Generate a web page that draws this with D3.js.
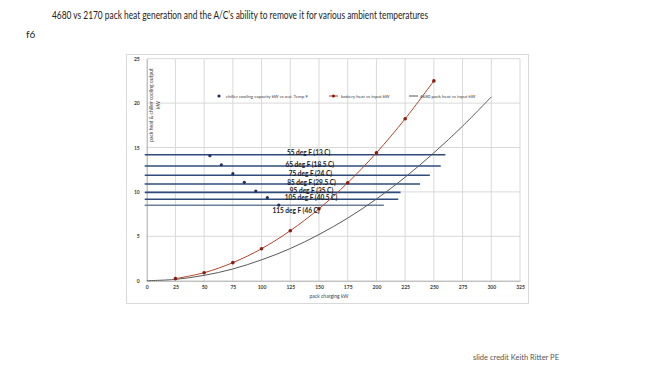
<!DOCTYPE html>
<html>
<head>
<meta charset="utf-8">
<script src="https://cdn.jsdelivr.net/npm/d3@7"></script>
<style>
  body { margin: 0; background: #fff; }
  svg { display: block; }
  text { font-family: Lato, "Liberation Sans", Arial, sans-serif; }
  .tick text { font-size: 5px; fill: #404040; }
</style>
</head>
<body>
<div id="chart"></div>
<script>
// chiller cooling capacity points (kW) vs outside temp
const chillerX = [55, 65, 75, 85, 95, 105, 115];
const chillerY = [14.07, 13.06, 12.05, 11.08, 10.1, 9.35, 8.52];

// capacity lines at each ambient temperature
const tempLabels = ["55 deg F (13 C)", "65 deg F (18.5 C)", "75 deg F (24 C)", "85 deg F (29.5 C)",
                    "95 deg F (35 C)", "105 deg F (40.5 C)", "115 deg F (46 C)"];
const tempLevel = [14.19, 12.92, 11.87, 10.89, 9.95, 9.17, 8.49];
const tempLineEnd = [260, 256, 246.5, 238, 221, 219, 206.5];

// battery heat vs input kW (2170)
const batteryX = [25, 50, 75, 100, 125, 150, 175, 200, 225, 250];
const batteryY = [0.23, 0.9, 2.03, 3.6, 5.63, 8.1, 11.03, 14.4, 18.23, 22.5];

// 4680 pack heat vs input kW
const pack4680X = [0, 25, 50, 75, 100, 125, 150, 175, 200, 225, 250, 275, 300];
const pack4680Y = [0, 0.15, 0.6, 1.32, 2.35, 3.62, 5.2, 7.05, 9.2, 11.65, 14.4, 17.4, 20.7];

const xTicks = d3.range(0, 326, 25);
const yTicks = [0, 5, 10, 15, 20, 25];

const svg = d3.select("#chart").append("svg")
  .attr("width", 660).attr("height", 371);

// slide texts
svg.append("text").attr("x", 52).attr("y", 19)
  .style("font-size", "11.5px").attr("fill", "#222")
  .attr("textLength", 376).attr("lengthAdjust", "spacingAndGlyphs")
  .text("4680 vs 2170 pack heat generation and the A/C\u2019s ability to remove it for various ambient temperatures");
svg.append("text").attr("x", 26).attr("y", 38)
  .style("font-size", "10px").attr("fill", "#222").text("f6");
svg.append("text").attr("x", 473).attr("y", 360)
  .style("font-size", "7px").attr("fill", "#555")
  .attr("textLength", 86).attr("lengthAdjust", "spacingAndGlyphs")
  .text("slide credit Keith Ritter PE");

// chart frame
svg.append("rect").attr("x", 126.5).attr("y", 54.5).attr("width", 402).attr("height", 249)
  .attr("fill", "#fff").attr("stroke", "#d9d9d9");

const x = d3.scaleLinear().domain([0, 325]).range([146.7, 520]);
const y = d3.scaleLinear().domain([0, 25]).range([280.7, 58.7]);

// grid
const grid = svg.append("g");
grid.selectAll(".gx").data(xTicks.slice(1)).join("line")
  .attr("x1", d => x(d)).attr("x2", d => x(d)).attr("y1", y(0)).attr("y2", y(25))
  .attr("stroke", "#d9d9d9").attr("stroke-width", 1);
grid.selectAll(".gy").data(yTicks.slice(1)).join("line")
  .attr("x1", x(0)).attr("x2", x(325)).attr("y1", d => y(d)).attr("y2", d => y(d))
  .attr("stroke", "#d9d9d9").attr("stroke-width", 1);

// axes
const xAxis = svg.append("g").attr("transform", `translate(0,${y(0)})`)
  .call(d3.axisBottom(x).tickValues(xTicks).tickSize(0).tickPadding(5));
const yAxis = svg.append("g").attr("transform", `translate(${x(0)},0)`)
  .call(d3.axisLeft(y).tickValues(yTicks).tickSize(0).tickPadding(7));
[xAxis, yAxis].forEach(a => {
  a.select(".domain").attr("stroke", "#a6a6a6");
  a.selectAll("text").style("font-weight", "bold");
});

svg.append("text").attr("x", 329).attr("y", 298).attr("text-anchor", "middle")
  .style("font-size", "5px").attr("fill", "#404040").text("pack charging kW");
const yt = svg.append("text").attr("transform", "translate(153,105) rotate(-90)")
  .attr("text-anchor", "middle").style("font-size", "5px").attr("fill", "#404040");
yt.append("tspan").attr("x", 0).attr("dy", 0).text("pack heat & chiller cooling output");
yt.append("tspan").attr("x", 0).attr("dy", 7).text("kW");

// temperature capacity lines
const tempData = tempLabels.map((t, i) => ({ t, v: tempLevel[i], end: tempLineEnd[i] }));
svg.append("g").selectAll("line").data(tempData).join("line")
  .attr("x1", x(0) - 2).attr("x2", d => x(d.end))
  .attr("y1", d => y(d.v)).attr("y2", d => y(d.v))
  .attr("stroke", (d, i) => i === 6 ? "#6c7f9c" : "#2f4b7c").attr("stroke-width", 1.6);

// 4680 curve
const line = d3.line().x(d => x(d[0])).y(d => y(d[1])).curve(d3.curveCatmullRom);
svg.append("path").datum(d3.zip(pack4680X, pack4680Y))
  .attr("d", line).attr("fill", "none").attr("stroke", "#595959").attr("stroke-width", 1);

// battery heat curve
const batt = d3.zip(batteryX, batteryY);
svg.append("path").datum(batt)
  .attr("d", line).attr("fill", "none").attr("stroke", "#b5432a").attr("stroke-width", 1);
svg.append("g").selectAll("circle").data(batt).join("circle")
  .attr("cx", d => x(d[0])).attr("cy", d => y(d[1])).attr("r", 1.8).attr("fill", "#8b1a10");

// chiller points
svg.append("g").selectAll("circle").data(d3.zip(chillerX, chillerY)).join("circle")
  .attr("cx", d => x(d[0])).attr("cy", d => y(d[1])).attr("r", 1.6).attr("fill", "#1f2f5c");

// temperature labels
const labelX = [141, 142, 142.5, 143.5, 143.5, 143, 130];
svg.append("g").selectAll("text").data(tempData).join("text")
  .attr("x", (d, i) => x(labelX[i]))
  .attr("y", (d, i) => i === 6 ? y(d.v) + 8 : y(d.v) + 0.8)
  .attr("text-anchor", "middle").style("font-size", "6.5px").style("font-weight", "bold")
  .attr("fill", "#1a1a1a").text(d => d.t);

// legend
const lg = svg.append("g").style("font-size", "4.5px").attr("fill", "#404040");
lg.append("circle").attr("cx", 219).attr("cy", 96).attr("r", 1.6).attr("fill", "#1f2f5c");
lg.append("text").attr("x", 226).attr("y", 97.5).text("chiller cooling capacity kW vs out. Temp F");
lg.append("line").attr("x1", 329).attr("x2", 338).attr("y1", 96).attr("y2", 96)
  .attr("stroke", "#b5432a").attr("stroke-width", 1);
lg.append("circle").attr("cx", 333.5).attr("cy", 96).attr("r", 1.6).attr("fill", "#8b1a10");
lg.append("text").attr("x", 341).attr("y", 97.5).text("battery heat vs input kW");
lg.append("line").attr("x1", 409).attr("x2", 418).attr("y1", 96).attr("y2", 96)
  .attr("stroke", "#595959").attr("stroke-width", 1);
lg.append("text").attr("x", 420).attr("y", 97.5).text("4680 pack heat vs input kW");
</script>
</body>
</html>
